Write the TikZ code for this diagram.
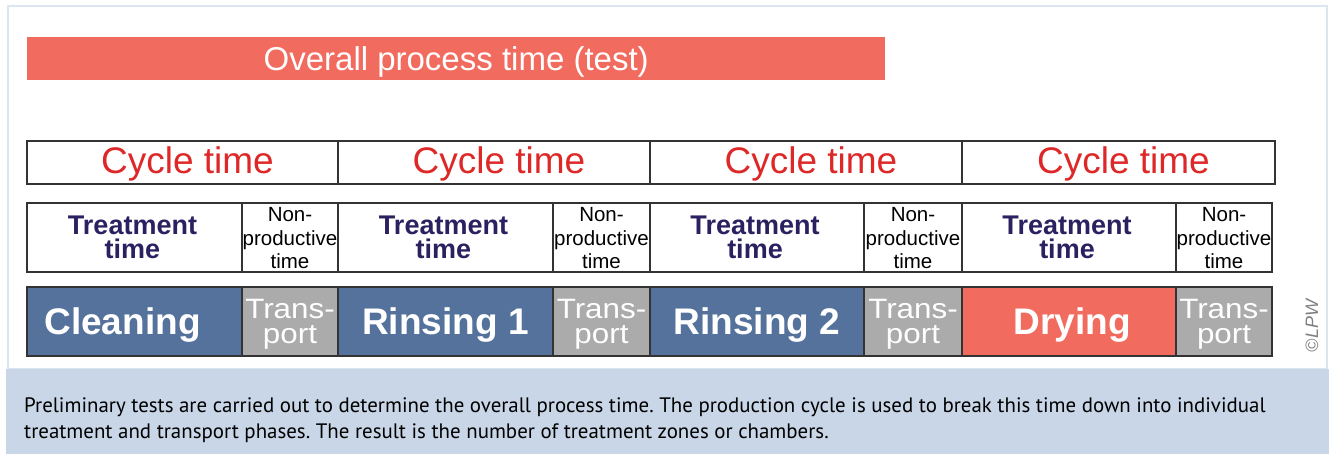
\documentclass[tikz,border=0pt]{standalone}
\usepackage{fontspec}
\setmainfont{Liberation Sans}
\newfontfamily\capfont{PT Sans}
\definecolor{barred}{HTML}{F26B5F}
\definecolor{procblue}{HTML}{54729B}
\definecolor{trgrey}{HTML}{ABABAB}
\definecolor{cyred}{HTML}{DE2828}
\definecolor{navy}{HTML}{2B2060}
\definecolor{capband}{HTML}{C9D6E7}
\definecolor{frameblue}{HTML}{DCE5F2}
\definecolor{boxline}{HTML}{333333}
\tikzset{
  cell/.style={draw=boxline, line width=1.2pt, inner sep=0pt, outer sep=0pt, anchor=north west},
  cyclebox/.style={cell, minimum height=43pt},
  rowbox/.style={cell, minimum height=69pt},
  lbl/.style={inner sep=0pt, align=center},
  cyclelbl/.style={lbl, text=cyred, font=\fontsize{37}{37}\selectfont},
  treatlbl/.style={lbl, text=navy, font=\fontsize{27}{23.5}\selectfont\bfseries},
  nplbl/.style={lbl, text=black, font=\fontsize{20.5}{23.5}\selectfont},
  proclbl/.style={lbl, text=white, font=\fontsize{37}{37}\selectfont\bfseries},
  trlbl/.style={lbl, text=white, font=\fontsize{28}{25}\selectfont, xscale=1.12, transform shape},
}
\begin{document}
\begin{tikzpicture}[x=1pt,y=-1pt]
\useasboundingbox (0,0) rectangle (1329,454);
\fill[white] (0,0) rectangle (1329,454);
% frame
\draw[frameblue, line width=2pt] (8,6) rectangle (1327,369);
\fill[capband] (6,369) rectangle (1329,454);
% overall bar
\node[anchor=north west, fill=barred, minimum width=858pt, minimum height=43pt, inner sep=0pt] (overall) at (27,37) {};
\node[lbl, text=white, font=\fontsize{33}{33}\selectfont] (overallt) at ([yshift=-3pt]overall.center) {Overall process time (test)};
% cycle row
\node[cyclebox, minimum width=311pt] (c1) at (27,141) {};
\node[cyclebox, minimum width=312pt] (c2) at (338,141) {};
\node[cyclebox, minimum width=312pt] (c3) at (650,141) {};
\node[cyclebox, minimum width=313pt] (c4) at (962,141) {};
\foreach \i in {1,...,4} \node[cyclelbl] (c\i t) at ([xshift=5pt,yshift=-1pt]c\i.center) {Cycle time};
% treatment row
\node[rowbox, fill=white, minimum width=215pt] (t1) at (27,203) {};
\node[rowbox, fill=white, minimum width=96pt] (n1) at (242,203) {};
\node[rowbox, fill=white, minimum width=215pt] (t2) at (338,203) {};
\node[rowbox, fill=white, minimum width=97pt] (n2) at (553,203) {};
\node[rowbox, fill=white, minimum width=214pt] (t3) at (650,203) {};
\node[rowbox, fill=white, minimum width=98pt] (n3) at (864,203) {};
\node[rowbox, fill=white, minimum width=214pt] (t4) at (962,203) {};
\node[rowbox, fill=white, minimum width=96pt] (n4) at (1176,203) {};
\foreach \i in {1,...,4} {
  \node[treatlbl] (t\i t) at ([xshift=-2pt]t\i.center) {Treatment\\time};
  \node[nplbl] (n\i t) at ([yshift=-1pt]n\i.center) {Non-\\productive\\time};
}
% process row
\node[rowbox, fill=procblue, minimum width=215pt] (p1) at (27,287) {};
\node[rowbox, fill=trgrey, minimum width=96pt] (r1) at (242,287) {};
\node[rowbox, fill=procblue, minimum width=215pt] (p2) at (338,287) {};
\node[rowbox, fill=trgrey, minimum width=97pt] (r2) at (553,287) {};
\node[rowbox, fill=procblue, minimum width=214pt] (p3) at (650,287) {};
\node[rowbox, fill=trgrey, minimum width=98pt] (r3) at (864,287) {};
\node[rowbox, fill=barred, minimum width=214pt] (p4) at (962,287) {};
\node[rowbox, fill=trgrey, minimum width=96pt] (r4) at (1176,287) {};
\node[proclbl] (p1t) at ([xshift=-12pt,yshift=-4pt]p1.center) {Cleaning};
\node[proclbl] (p2t) at ([yshift=-4pt]p2.center) {Rinsing 1};
\node[proclbl] (p3t) at ([yshift=-4pt]p3.center) {Rinsing 2};
\node[proclbl] (p4t) at ([xshift=3pt,yshift=-4pt]p4.center) {Drying};
\foreach \i in {1,...,4} \node[trlbl] (r\i t) at ([yshift=-3pt]r\i.center) {Trans-\\port};
% copyright
\node[rotate=90, text=gray, font=\fontsize{18}{18}\selectfont\itshape, inner sep=0pt] (copy) at (1312,326) {©LPW};
% caption
\node[anchor=base west, align=left, inner sep=0pt, text=black, font=\capfont\fontsize{20.9}{26}\selectfont\frenchspacing] (cap) at (24,438)
 {Preliminary tests are carried out to determine the overall process time. The production cycle is used to break this time down into individual\\
 treatment and transport phases. The result is the number of treatment zones or chambers.};
\end{tikzpicture}
\end{document}
